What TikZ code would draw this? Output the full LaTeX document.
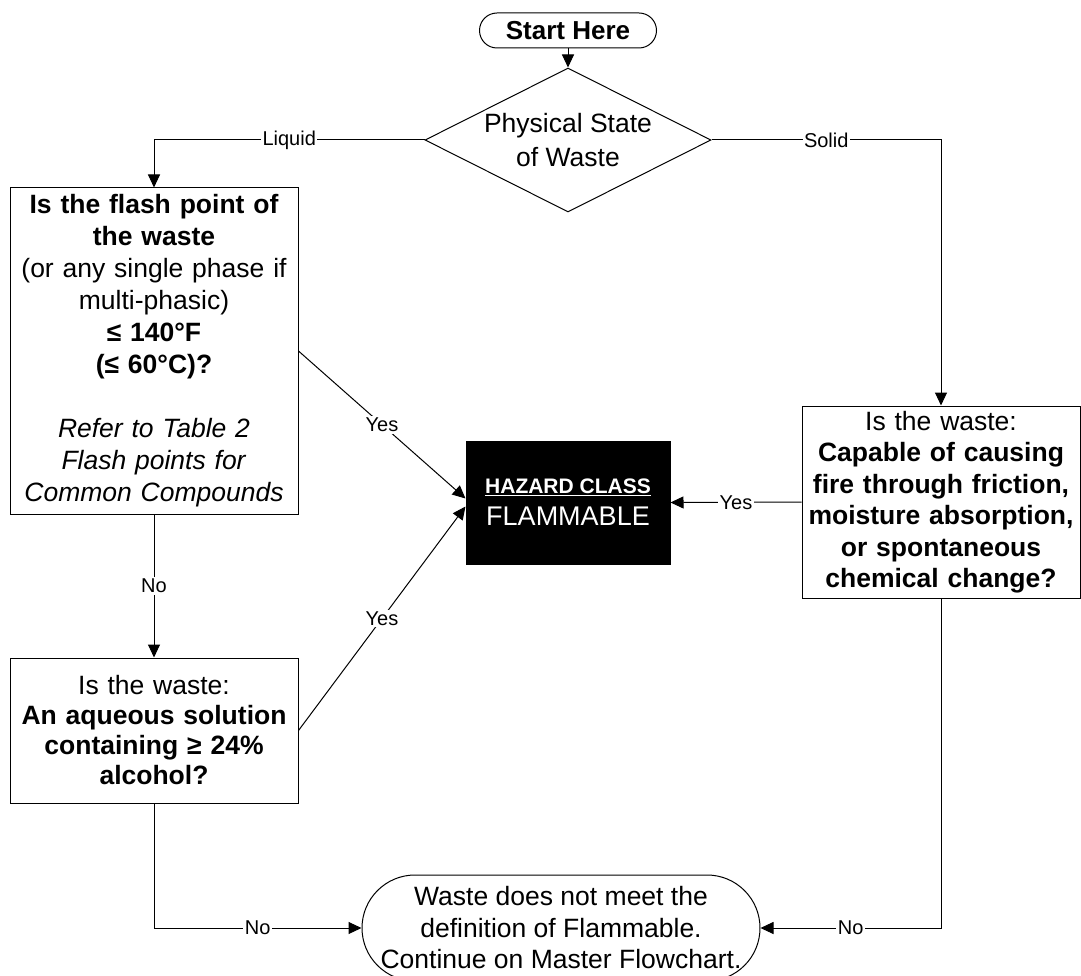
\documentclass[tikz,border=0pt]{standalone}
\usepackage{fontspec}
\setmainfont{Liberation Sans}
\usetikzlibrary{shapes.geometric,arrows.meta}
\begin{document}
\begin{tikzpicture}[x=1pt,y=-1pt,
  line width=1pt,
  every node/.style={inner sep=0pt},
  flow/.style={draw, line width=1pt, -{Triangle[length=13pt,width=12pt]}},
  lbl/.style={fill=white, inner xsep=1.5pt, inner ysep=2pt, font=\fontsize{20}{24}\selectfont},
  box/.style={draw, line width=1pt, align=center, font=\fontsize{26.5}{31.5}\selectfont},
]
\useasboundingbox (0,0) rectangle (1081,976);

% terminators, decision and process boxes
\node[box, rounded corners=17.5pt, minimum width=177pt, minimum height=35pt,
      font=\fontsize{26}{30}\selectfont\bfseries] (st) at (568,30.5) {Start Here};

\node[box, shape=diamond, aspect=2, minimum width=286pt, minimum height=144pt,
      font=\fontsize{26.5}{34}\selectfont] (ds) at (568,140) {Physical State\\of Waste};

\node[box, minimum width=288pt, minimum height=326pt, text width=284pt,
      font=\fontsize{26.5}{32}\selectfont] (fp) at (154,351)
  {\textbf{Is the flash point of}\\
   \textbf{the waste}\\
   (or any single phase if\\
   multi-phasic)\\
   \textbf{≤ 140°F}\\
   \textbf{(≤ 60°C)?}\\[32pt]
   \textit{Refer to Table 2}\\
   \textit{Flash points for}\\
   \textit{Common Compounds}};

\node[box, minimum width=288pt, minimum height=145pt, text width=284pt,
      font=\fontsize{26.5}{30}\selectfont] (aq) at (154,730.5)
  {Is the waste:\\
   \textbf{An aqueous solution}\\
   \textbf{containing ≥ 24\%}\\
   \textbf{alcohol?}};

\node[box, minimum width=278pt, minimum height=192pt, text width=276pt] (sp) at (941,502)
  {Is the waste:\\
   \textbf{Capable of causing}\\
   \textbf{fire through friction,}\\
   \textbf{moisture absorption,}\\
   \textbf{or spontaneous}\\
   \textbf{chemical change?}};

\node[box, fill=black, text=white, minimum width=204pt, minimum height=123pt,
      font=\fontsize{27}{32}\selectfont] (hz) at (568,502.5)
  {{\fontsize{21}{32}\selectfont\bfseries\underline{HAZARD CLASS}}\\FLAMMABLE};

\node[box, rounded corners=53pt, minimum width=398pt, minimum height=106pt] (en) at (561,928)
  {Waste does not meet the\\
   definition of Flammable.\\
   Continue on Master Flowchart.};

% connectors
\draw[flow] (st) -- (ds);
\draw[flow] (ds.west) -| node[lbl, pos=0.25] {Liquid} (fp.north);
\draw[flow] (ds.east) -| node[lbl, pos=0.25] {Solid} (sp.north);
\draw[flow] (fp.east) -- node[lbl] {Yes} ([yshift=4pt]hz.west);
\draw[flow] (aq.east) -- node[lbl] {Yes} ([yshift=-4pt]hz.west);
\draw[flow] (sp.west) -- node[lbl] {Yes} (hz.east);
\draw[flow] (fp.south) -- node[lbl] {No} (aq.north);
\draw[flow] (aq.south) |- node[lbl, pos=0.75] {No} (en.west);
\draw[flow] (sp.south) |- node[lbl, pos=0.75] {No} (en.east);
\end{tikzpicture}
\end{document}
